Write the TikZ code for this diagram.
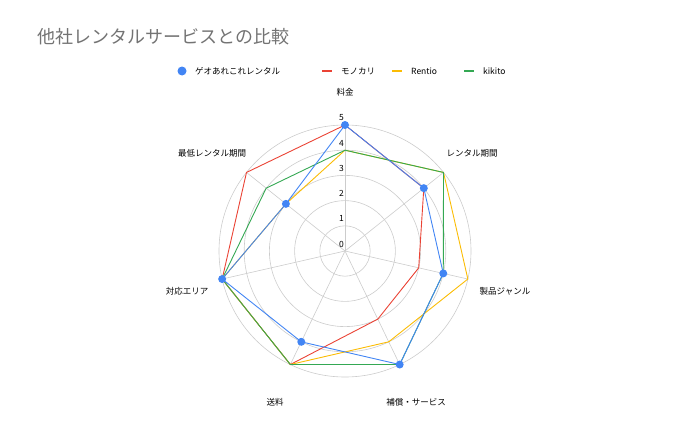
\documentclass[tikz,border=0pt]{standalone}
\usepackage{fontspec}
\setmainfont{Noto Sans CJK JP}
\usetikzlibrary{calc}
\definecolor{geo}{HTML}{4285F4}
\definecolor{mono}{HTML}{EA4335}
\definecolor{rent}{HTML}{FBBC04}
\definecolor{kiki}{HTML}{34A853}
\definecolor{gridc}{HTML}{CCCCCC}
\tikzset{
  lbl/.style={font=\fontsize{8.5}{10}\selectfont, inner sep=1pt},
  series/.style={line width=0.9pt}
}
\begin{document}
\begin{tikzpicture}[x=1pt,y=1pt]
  \useasboundingbox (0,-436) rectangle (692,0);
  \coordinate (o) at (345,-251);
  % grid
  \foreach \r in {1,...,5}
    \draw[gridc, line width=0.6pt] (o) circle ({25.2*\r});
  \foreach \k in {0,...,6}
    \draw[gridc, line width=0.6pt] (o) -- ($(o)+({90-\k*360/7}:126)$);
  \foreach \r in {0,...,5}
    \node[lbl, anchor=east] (t\r) at (345,{-244+25.2*\r}) {\r};
  % axis labels
  \node[lbl] (a0) at (345,-92) {料金};
  \node[lbl] (a1) at (472,-153) {レンタル期間};
  \node[lbl] (a2) at (505,-291) {製品ジャンル};
  \node[lbl] (a3) at (416,-402) {補償・サービス};
  \node[lbl] (a4) at (275,-402) {送料};
  \node[lbl] (a5) at (187,-291) {対応エリア};
  \node[lbl] (a6) at (212,-153) {最低レンタル期間};
  % data
  \foreach \name/\col/\vals in {
      mono/mono/{5,4,3,3,5,5,5},
      rent/rent/{4,5,5,4,5,5,3},
      kiki/kiki/{4,5,4,5,5,5,4},
      geo/geo/{5,4,4,5,4,5,3}}{
    \foreach \v [count=\i from 0] in \vals
      \coordinate (\name\i) at ($(o)+({90-\i*360/7}:{25.2*\v})$);
    \draw[series, \col] (\name0) -- (\name1) -- (\name2) -- (\name3)
      -- (\name4) -- (\name5) -- (\name6) -- cycle;
  }
  \foreach \i in {0,...,6}
    \fill[geo] (geo\i) circle (4);
  % title and legend
  \node[anchor=west, text=black!55, font=\fontsize{18}{20}\selectfont] (title) at (34,-37) {他社レンタルサービスとの比較};
  \fill[geo] (182,-71) circle (4.5);
  \node[lbl, anchor=west] (l1) at (194,-71) {ゲオあれこれレンタル};
  \draw[mono, line width=2.2pt] (322,-71) -- (332,-71);
  \node[lbl, anchor=west] (l2) at (340,-71) {モノカリ};
  \draw[rent, line width=2.2pt] (392,-71) -- (402,-71);
  \node[lbl, anchor=west] (l3) at (410,-71) {Rentio};
  \draw[kiki, line width=2.2pt] (464,-71) -- (474,-71);
  \node[lbl, anchor=west] (l4) at (482,-71) {kikito};
\end{tikzpicture}
\end{document}
